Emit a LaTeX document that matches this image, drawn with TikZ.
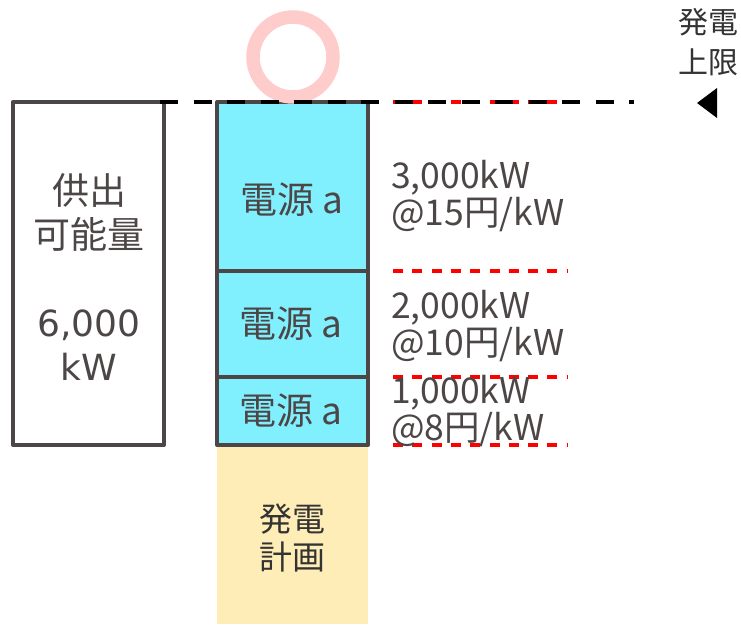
\documentclass[tikz,border=0pt]{standalone}
\usepackage{fontspec}
\setmainfont{Noto Sans CJK JP}
\newfontfamily\latinfont{DejaVu Sans}
\definecolor{txt}{HTML}{4D4646}
\definecolor{dark}{HTML}{333333}
\definecolor{cyanfill}{HTML}{80F0FF}
\definecolor{yellowfill}{HTML}{FFEDB8}
\definecolor{pinkring}{HTML}{FFCCCC}
\begin{document}
\begin{tikzpicture}[x=1pt,y=-1pt,
  boxline/.style={draw=txt,line width=4pt,line join=round},
  srcbox/.style={boxline,fill=cyanfill},
  redline/.style={draw=red,line width=3.5pt,dash pattern=on 10pt off 9.3pt},
  blackline/.style={draw=black,line width=4pt,dash pattern=on 18pt off 15.5pt},
  jp/.style={text=txt,font=\fontsize{37}{44}\selectfont,align=center,inner sep=0pt},
  lab/.style={text=txt,font=\fontsize{35.5}{37}\selectfont,align=left,inner sep=0pt,anchor=west},
  dk/.style={text=dark,align=center,inner sep=0pt}]
\useasboundingbox (0,0) rectangle (741,624);
% plan box
\fill[yellowfill] (217,445) rectangle (368,624);
\node[dk,font=\fontsize{33}{37}\selectfont] (plan) at (292,538) {発電\\計画};
% supply box
\draw[boxline] (13,102) rectangle (164,445);
\node[jp] (supply) at (89,277) {供出\\可能量\\[44pt]{\latinfont\fontsize{36}{44}\selectfont 6,000}\\{\latinfont\fontsize{36}{44}\selectfont kW}};
% source boxes
\draw[srcbox] (217,102) rectangle (368,271);
\draw[srcbox] (217,271) rectangle (368,377);
\draw[srcbox] (217,377) rectangle (368,445);
\node[jp] (s1) at (292,200) {電源 a};
\node[jp] (s2) at (291,324) {電源 a};
\node[jp] (s3) at (291,411) {電源 a};
% ring
\draw[pinkring,line width=13.5pt] (293,57) circle (40);
% red dashed lines
\draw[redline] (393,102) -- (568,102);
\draw[redline] (393,271) -- (568,271);
\draw[redline] (393,377) -- (568,377);
\draw[redline] (393,445) -- (568,445);
% black dashed line
\draw[blackline] (160,102) -- (634,102);
% labels
\node[lab] (l1) at (391,196) {3,000kW\\@15円/kW};
\node[lab] (l2) at (391,326) {2,000kW\\@10円/kW};
\node[lab] (l3) at (391,411) {1,000kW\\@8円/kW};
% upper limit
\node[dk,font=\fontsize{30}{40}\selectfont] (lim) at (708,42) {発電\\上限};
\fill[black] (697,103) -- (717,88) -- (717,118) -- cycle;
\end{tikzpicture}
\end{document}
